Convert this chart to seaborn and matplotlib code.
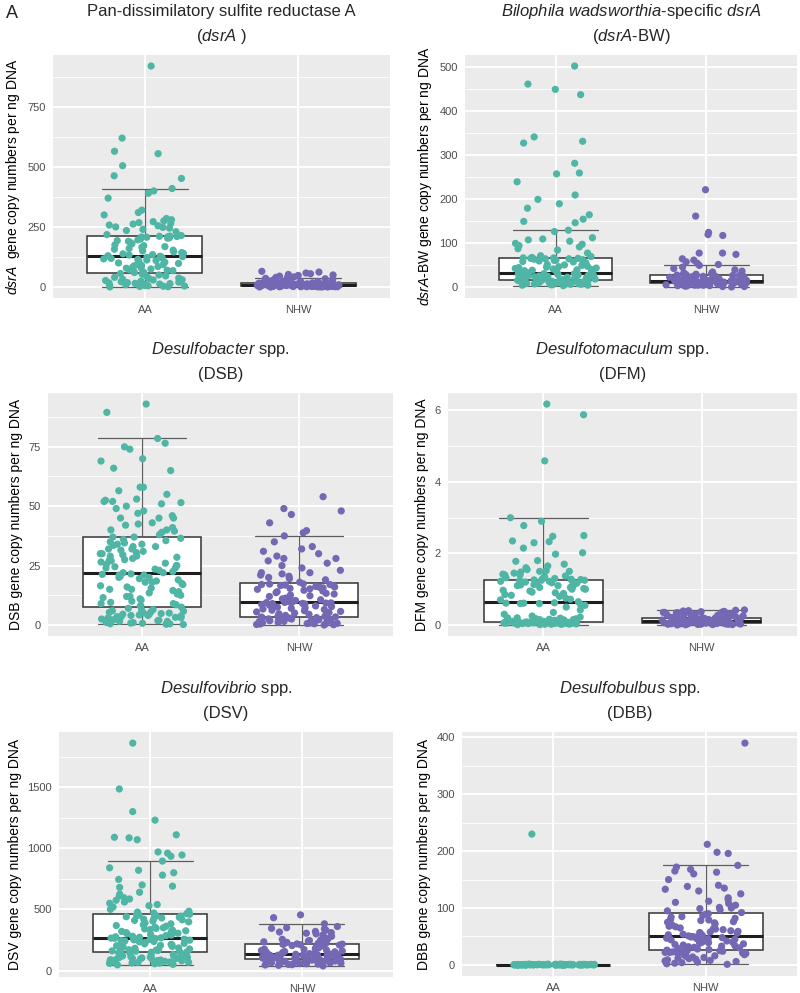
import numpy as np
import pandas as pd
import matplotlib
matplotlib.use('Agg')
import matplotlib.pyplot as plt
import seaborn as sns
from matplotlib.ticker import MultipleLocator, AutoMinorLocator

groups = ['AA', 'NHW']
palette = {'AA': '#4fb5a5', 'NHW': '#7467b4'}

# ---- Pan-dissimilatory sulfite reductase A (dsrA)
dsrA_AA = [0, 1, 2, 3, 4, 5, 6, 8, 9, 10, 12, 14, 15, 17, 18, 20, 22, 24, 25, 27,
           29, 30, 32, 35, 37, 40, 43, 46, 50, 53, 56, 58, 60, 63, 65, 68, 70, 72, 75, 78,
           80, 83, 85, 88, 90, 93, 95, 98, 100, 103, 105, 108, 110, 112, 115, 117, 119, 121, 123, 124,
           126, 128, 130, 133, 135, 138, 140, 143, 146, 150, 153, 157, 160, 165, 168, 172, 175, 180, 185, 190,
           193, 196, 200, 203, 205, 207, 208, 209, 210, 211, 212, 214, 218, 230, 235, 240, 245, 248, 250, 255,
           258, 262, 265, 268, 272, 275, 280, 285, 300, 310, 320, 370, 390, 400, 410, 452, 463, 505, 555, 565,
           620, 920]
dsrA_NHW = [0, 0, 0, 0, 1, 1, 1, 1, 1, 2, 2, 2, 2, 2, 3, 3, 3, 3, 4, 4,
            4, 5, 5, 5, 6, 6, 6, 7, 7, 7, 8, 8, 8, 8, 9, 9, 9, 10, 10, 10,
            11, 11, 12, 12, 13, 13, 14, 14, 15, 15, 16, 16, 17, 17, 18, 18, 19, 20, 21, 22,
            23, 24, 25, 26, 28, 30, 32, 34, 36, 38, 40, 42, 45, 48, 50, 52, 55, 58, 62, 65,
            0, 1, 1, 2, 2, 3, 3, 4, 4, 5, 5, 6, 6, 7, 8, 9, 10, 11, 12, 14]

# ---- Bilophila wadsworthia-specific dsrA (dsrA-BW)
bw_AA = [4, 5, 5, 6, 6, 7, 7, 7, 8, 8, 8, 9, 9, 9, 10, 10, 10, 11, 11, 11,
         12, 12, 12, 13, 13, 13, 14, 14, 14, 15, 15, 16, 16, 16, 17,
         17, 18, 18, 19, 19, 19, 20, 20, 21, 21, 22, 22, 23, 23, 24, 24, 25, 25, 26, 26,
         27, 27, 28, 28, 29, 29, 30, 30, 31, 31, 32, 32, 32, 33, 33,
         34, 35, 36, 36, 37, 38, 39, 40, 41, 42, 43, 44, 45, 46, 47, 48, 50, 51, 52, 54,
         55, 56, 58, 59, 60, 61, 62, 63, 64, 65, 65, 66, 66, 67, 67,
         68, 70, 72, 78, 85, 88, 92, 95, 98, 100, 105, 108, 110, 113, 127,
         130, 147, 150, 155, 165, 180, 190, 200, 210, 240, 258, 260, 282, 328, 332, 342, 438, 450, 462, 503]
bw_NHW = [1, 2, 2, 3, 3, 4, 4, 5, 5, 5, 6, 6, 6, 7, 7, 7, 8, 8, 8, 9, 9, 9, 9, 10, 10,
          10, 10, 11, 11, 11, 11, 12, 12, 12, 12, 12, 13, 13, 13, 13, 13, 14, 14, 14, 14, 14, 15, 15, 15, 15,
          16, 16, 17, 17, 18, 18, 19, 19, 20, 20, 21, 21, 22, 22, 23, 23, 24, 24, 25, 25, 26, 26, 27, 27, 27,
          28, 29, 30, 30, 32, 33, 35, 37, 40, 43, 46, 50, 52,
          55, 58, 62, 65, 75, 78, 78, 118, 120, 125, 162, 222]

# ---- Desulfobacter spp. (DSB)
dsb_AA = [0.2, 0.3, 0.5, 0.5, 0.7, 0.8, 1, 1, 1.2, 1.5, 1.5, 1.8, 2, 2, 2.2, 2.5, 2.8, 3, 3, 3.2,
          3.5, 3.5, 3.8, 4, 4, 4.2, 4.5, 4.5, 4.8, 5, 5, 5.3, 5.5, 5.8, 6, 6.2, 6.5,
          7, 7.5, 8, 8, 8.5, 9, 9, 9.5, 10, 10.5, 11, 11.5, 12, 12, 12.5, 13, 13.5, 14, 14.5, 15,
          15, 15.5, 16, 16.5, 17, 17.5, 18, 18, 18.5, 19, 19.5, 20, 20, 20.5, 21, 21, 21.3, 21.5,
          22, 22, 22.5, 23, 23.5, 24, 24, 24.5, 25, 25, 25.5, 26, 26.5, 27, 27, 27.5, 28, 28.5, 29, 29,
          29.5, 30, 30, 30.5, 31, 31.5, 32, 32, 33, 33, 33.5, 34, 34, 34.5, 35, 35.5, 36,
          36.5, 37, 37, 38, 39, 39.5, 40, 40, 41, 42, 42.5, 43, 45, 45, 45, 46, 47, 48, 49, 50,
          51, 51.5, 52, 52, 52.5, 53, 55, 56.5, 58, 58, 65, 66, 69, 70, 74, 75, 76.5, 78.5,
          89.5, 93]
dsb_NHW = [0, 0.1, 0.2, 0.3, 0.4, 0.5, 0.6, 0.7, 0.8, 0.9, 1, 1.1, 1.2, 1.4, 1.5, 1.6, 1.8, 2, 2, 2.2,
           2.3, 2.5, 2.6, 2.8, 2.9, 3, 3.1, 3.2, 3.3, 3.4,
           3.6, 3.8, 4, 4.2, 4.5, 4.7, 5, 5.2, 5.5, 5.7, 6, 6.2, 6.5, 6.7, 7, 7.2, 7.5, 7.7, 8, 8.2,
           8.4, 8.6, 8.8, 9, 9.1, 9.2, 9.3, 9.4, 9.5, 9.5,
           9.8, 10, 10.3, 10.6, 11, 11.3, 11.6, 12, 12.3, 12.6, 13, 13.3, 13.6, 14, 14.3, 14.6, 15, 15.2, 15.4, 15.6,
           15.8, 16, 16.2, 16.4, 16.6, 16.8, 17, 17, 17.2, 17.3,
           18, 19, 19.5, 20, 20.5, 21, 21.5, 22, 22, 23, 24, 25, 26, 27, 28, 28, 29, 30, 31, 32, 33, 35, 37.5,
           38.8, 39.7, 43, 46.5, 48, 49, 54]

# ---- Desulfotomaculum spp. (DFM)
dfm_AA = [0.01, 0.01, 0.02, 0.02, 0.02, 0.03, 0.03, 0.03, 0.03, 0.04, 0.04, 0.04, 0.04, 0.05, 0.05,
          0.05, 0.05, 0.05, 0.06, 0.06, 0.06, 0.06, 0.06, 0.06, 0.07, 0.07, 0.07, 0.07, 0.07, 0.07,
          0.07, 0.07, 0.07, 0.08, 0.08,
          0.08, 0.08, 0.09, 0.09, 0.1, 0.1, 0.1, 0.11, 0.11, 0.12, 0.12, 0.13, 0.13, 0.14, 0.15,
          0.15, 0.16, 0.17, 0.18, 0.19, 0.2, 0.2, 0.22, 0.25, 0.3, 0.35, 0.42, 0.5, 0.55, 0.58,
          0.6, 0.6, 0.61, 0.61, 0.62,
          0.65, 0.7, 0.72, 0.75, 0.8, 0.83, 0.85, 0.88, 0.9, 0.92, 0.95, 0.97, 1.0, 1.0, 1.02,
          1.05, 1.05, 1.08, 1.1, 1.1, 1.12, 1.13, 1.15, 1.15, 1.17, 1.18, 1.2, 1.2, 1.22, 1.22,
          1.23, 1.24, 1.25, 1.25, 1.26,
          1.27, 1.28, 1.3, 1.3, 1.32, 1.35, 1.37, 1.4, 1.4, 1.42, 1.45, 1.48, 1.5, 1.5, 1.52,
          1.55, 1.6, 1.65, 1.7, 1.78, 1.8, 1.98, 2.02, 2.15, 2.3, 2.33, 2.35, 2.48, 2.5, 2.78,
          2.9, 3.0, 4.59, 5.88, 6.18]
dfm_NHW = [0, 0.005, 0.01, 0.01, 0.015, 0.02, 0.02, 0.02, 0.025, 0.03, 0.03, 0.03, 0.035, 0.035, 0.04,
           0.04, 0.04, 0.045, 0.045, 0.05, 0.05, 0.05, 0.055, 0.055, 0.055, 0.06, 0.06,
           0.062, 0.065, 0.067, 0.07, 0.07, 0.072, 0.075, 0.077, 0.08, 0.08, 0.082, 0.085, 0.087, 0.09,
           0.09, 0.092, 0.095, 0.097, 0.1, 0.1, 0.102, 0.105, 0.107, 0.11, 0.112, 0.115, 0.117, 0.12,
           0.122, 0.125, 0.127, 0.13, 0.13, 0.133, 0.136, 0.14, 0.142, 0.145, 0.148, 0.15, 0.153, 0.156,
           0.16, 0.163, 0.166, 0.17, 0.173, 0.176, 0.18, 0.183, 0.186, 0.19, 0.193, 0.196, 0.2,
           0.21, 0.22, 0.23, 0.24, 0.25, 0.26, 0.27, 0.28, 0.29, 0.3, 0.3, 0.31, 0.31, 0.32, 0.32,
           0.33, 0.33, 0.34, 0.34, 0.35, 0.35, 0.36, 0.37, 0.38, 0.39, 0.4, 0.41, 0.42]

# ---- Desulfovibrio spp. (DSV)
dsv_AA = [46, 50, 55, 58, 60, 62, 65, 68, 70, 72, 75, 78, 80, 82, 85, 88, 90, 92, 95, 98,
          100, 103, 105, 108, 110, 113, 116, 119, 122, 125, 128, 132, 136, 140, 143, 146, 149,
          152, 155, 158, 161, 164, 167, 170, 173, 176, 179, 182, 185, 188, 191, 194, 197, 200, 203, 206, 210,
          214, 218, 222, 226, 230, 234, 238, 242, 245, 248, 251, 254, 257, 259, 261, 263, 264, 265,
          268, 272, 276, 280, 285, 290, 295, 300, 305, 310, 315, 320, 325, 330, 335, 340, 345, 350, 355, 362,
          368, 375, 382, 390, 398, 405, 410, 415, 420, 425, 430, 435, 440, 445, 448, 452, 455,
          460, 465, 470, 478, 485, 500, 520, 530, 540, 550, 560, 575, 585, 595, 610, 625, 640, 680, 690, 700,
          745, 780, 800, 820, 840, 895,
          935, 945, 960, 970, 1070, 1085, 1090, 1110, 1230, 1300, 1485, 1860]
dsv_NHW = [38, 42, 45, 48, 50, 52, 55, 58, 60, 62, 64, 66, 68, 70, 72, 74, 76, 78, 80, 82, 85, 88, 90, 92, 95,
           97, 99, 101, 103, 105, 107, 109, 111, 113, 115, 117, 119, 121, 123, 125, 126, 127, 128, 129, 130,
           131, 132, 133, 134, 135,
           138, 141, 144, 147, 150, 153, 156, 160, 164, 168, 172, 176, 180, 184, 188, 192, 196, 200, 204, 208,
           211, 214, 216, 217, 218,
           222, 226, 230, 235, 240, 245, 250, 255, 262, 270, 280, 290, 300, 305, 310, 315, 320, 330, 340, 345,
           350, 360, 382, 432, 455]

# ---- Desulfobulbus spp. (DBB)
dbb_AA = [0.0, 0.2, 0.5, 0.1, 0.8, 0.3, 1.0, 0.0, 0.4, 0.6, 0.2, 0.9, 0.1, 0.7, 0.3, 1.2, 0.0, 0.5, 0.4, 0.2,
          0.6, 0.1, 0.8, 0.3, 0.0, 1.1, 0.2, 0.5, 0.7, 0.1, 0.4, 0.9, 0.0, 0.3, 0.6, 0.2, 1.3, 0.1, 0.5, 0.0,
          0.4, 0.8, 0.2, 0.6, 0.1, 0.3, 1.0, 0.0, 0.7, 0.2, 0.5, 0.1, 0.9, 0.4, 0.0, 0.3, 0.6, 0.2, 1.4, 0.1,
          0.5, 0.0, 0.8, 0.3, 0.2, 0.7, 0.1, 0.4, 1.1, 0.0, 0.6, 0.2, 0.3, 0.9, 0.1, 0.5, 0.0, 0.4, 0.8, 0.2,
          0.3, 0.6, 0.1, 1.2, 0.0, 0.5, 0.2, 0.7, 0.4, 0.1, 230]
dbb_NHW = [1, 2, 3, 4, 5, 6, 7, 8, 9, 10, 11, 12, 13, 14, 15, 16, 17, 18, 19, 20, 20, 21, 22, 22, 23, 24, 24, 25, 25, 26,
           27, 28, 29, 30, 31, 32, 33, 34, 35, 36, 37, 38, 39, 40, 40, 41, 42, 43, 44, 44, 45, 46, 46, 47, 48, 48,
           49, 49, 50, 50,
           51, 52, 53, 54, 55, 56, 57, 58, 59, 60, 62, 63, 64, 65, 67, 68, 70, 72, 74, 75, 76, 78, 79, 80, 82, 84,
           85, 87, 89, 90,
           92, 95, 97, 99, 100, 101, 103, 105, 108, 110, 112, 115, 118, 125, 130, 133, 135, 138, 140, 150, 160,
           163, 165, 168, 172, 175,
           196, 198, 212, 390]

titles1 = [r'Pan-dissimilatory sulfite reductase A',
           r'$\mathit{Bilophila\ wadsworthia}$-specific $\mathit{dsrA}$',
           r'$\mathit{Desulfobacter}$ spp.',
           r'$\mathit{Desulfotomaculum}$ spp.',
           r'$\mathit{Desulfovibrio}$ spp.',
           r'$\mathit{Desulfobulbus}$ spp.']
titles2 = [r'($\mathit{dsrA}$ )', r'($\mathit{dsrA}$-BW)', '(DSB)', '(DFM)', '(DSV)', '(DBB)']
ylabels = [r'$\mathit{dsrA}$  gene copy numbers per ng DNA',
           r'$\mathit{dsrA}$-BW gene copy numbers per ng DNA',
           'DSB gene copy numbers per ng DNA',
           'DFM gene copy numbers per ng DNA',
           'DSV gene copy numbers per ng DNA',
           'DBB gene copy numbers per ng DNA']
series = [(dsrA_AA, dsrA_NHW), (bw_AA, bw_NHW), (dsb_AA, dsb_NHW),
          (dfm_AA, dfm_NHW), (dsv_AA, dsv_NHW), (dbb_AA, dbb_NHW)]
steps = [250, 100, 25, 2, 500, 100]

W, H = 800, 993
rects_px = [(53, 55, 390, 298), (465, 55, 797, 298),
            (48, 393, 393, 636), (448, 393, 797, 636),
            (59, 732, 393, 977), (462, 732, 797, 976)]

sns.set_style('white')
plt.rcParams['font.family'] = ['Liberation Sans', 'DejaVu Sans']
plt.rcParams['mathtext.fontset'] = 'custom'
plt.rcParams['mathtext.rm'] = 'Liberation Sans'
plt.rcParams['mathtext.it'] = 'Liberation Sans:italic'
plt.rcParams['mathtext.bf'] = 'Liberation Sans:bold'

np.random.seed(7)
fig = plt.figure(figsize=(W / 100, H / 100), dpi=100)

for i, ((aa, nhw), t1, t2, yl, st, (l, t, r, b)) in enumerate(
        zip(series, titles1, titles2, ylabels, steps, rects_px)):
    ax = fig.add_axes([l / W, 1 - b / H, (r - l) / W, (b - t) / H])
    df = pd.DataFrame({'group': ['AA'] * len(aa) + ['NHW'] * len(nhw),
                       'value': list(aa) + list(nhw)})
    sns.boxplot(data=df, x='group', y='value', order=groups, width=0.75,
                showfliers=False, color='white', linecolor='#333333', linewidth=1.1,
                whiskerprops=dict(color='#5e5e5e', linewidth=0.9),
                capprops=dict(color='#5e5e5e', linewidth=0.9),
                medianprops=dict(color='#1e1e1e', linewidth=2.2),
                ax=ax)
    for c in ax.containers:
        if hasattr(c, 'caps'):
            for cap in c.caps:
                xd = np.asarray(cap.get_xdata(), dtype=float)
                m = xd.mean()
                cap.set_xdata([m - 0.28, m + 0.28])
    sns.stripplot(data=df, x='group', y='value', order=groups, hue='group',
                  hue_order=groups, palette=palette, jitter=0.27, size=5.2,
                  linewidth=0, alpha=1, legend=False, ax=ax, zorder=3)

    vals = np.array(list(aa) + list(nhw), dtype=float)
    lo, hi = vals.min(), vals.max()
    pad = 0.05 * (hi - lo)
    ax.set_ylim(lo - pad, hi + pad)
    ax.set_xlim(-0.6, 1.6)
    ax.yaxis.set_major_locator(MultipleLocator(st))
    ax.yaxis.set_minor_locator(AutoMinorLocator(2))
    ax.set_facecolor('#EBEBEB')
    ax.set_axisbelow(True)
    ax.grid(True, which='major', axis='both', color='white', linewidth=1.3)
    ax.grid(True, which='minor', axis='y', color='white', linewidth=0.6)
    for s in ax.spines.values():
        s.set_visible(False)
    ax.tick_params(axis='both', which='major', length=3, width=0.8, color='#333333',
                   labelcolor='#4D4D4D', labelsize=8, pad=2)
    ax.tick_params(axis='both', which='minor', length=0)
    ax.set_xlabel('')
    ax.set_ylabel(yl, fontsize=10, labelpad=4, color='black')
    ax.annotate(t1, xy=(0.5, 1), xycoords='axes fraction', xytext=(0, 31),
                textcoords='offset points', ha='center', va='center', fontsize=12)
    ax.annotate(t2, xy=(0.5, 1), xycoords='axes fraction', xytext=(0, 13.5),
                textcoords='offset points', ha='center', va='center', fontsize=12)

fig.text(12 / W, 1 - 13 / H, 'A', fontsize=13, ha='center', va='center')
fig.savefig('out.png', dpi=100)
